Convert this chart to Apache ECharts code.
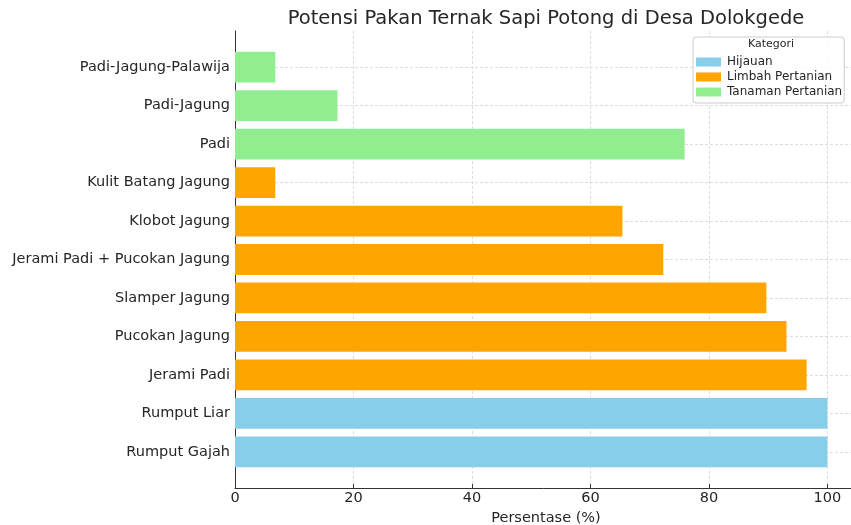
<!DOCTYPE html>
<html>
<head>
<meta charset="utf-8">
<script src="https://cdn.jsdelivr.net/npm/echarts@6/dist/echarts.min.js"></script>
<style>
  html, body { margin: 0; padding: 0; background: #fff; }
  #chart { width: 851px; height: 525px; }
</style>
</head>
<body>
<div id="chart"></div>
<script>
// Feed sources, listed bottom to top
const categories = [
  'Rumput Gajah', 'Rumput Liar', 'Jerami Padi', 'Pucokan Jagung', 'Slamper Jagung',
  'Jerami Padi + Pucokan Jagung', 'Klobot Jagung', 'Kulit Batang Jagung',
  'Padi', 'Padi-Jagung', 'Padi-Jagung-Palawija'
];
// Share of respondents (%) per feed source
const values = [100, 100, 96.5, 93.1, 89.7, 72.3, 65.4, 6.8, 75.9, 17.3, 6.8];
// Category of each feed source
const groups = [
  'Hijauan', 'Hijauan',
  'Limbah Pertanian', 'Limbah Pertanian', 'Limbah Pertanian',
  'Limbah Pertanian', 'Limbah Pertanian', 'Limbah Pertanian',
  'Tanaman Pertanian', 'Tanaman Pertanian', 'Tanaman Pertanian'
];
const groupNames = ['Hijauan', 'Limbah Pertanian', 'Tanaman Pertanian'];
const groupColors = ['#87CEEB', '#FFA500', '#90EE90'];
const xTicks = [0, 20, 40, 60, 80, 100];

const FONT = 'DejaVu Sans';
const TEXT = '#262626';
const GRIDLINE = { color: '#d4d4d4', type: [3, 2], width: 0.8 };

const chart = echarts.init(document.getElementById('chart'), null, { renderer: 'canvas' });

const series = groupNames.map((g, gi) => ({
  name: g,
  type: 'bar',
  xAxisIndex: 1,
  yAxisIndex: 1,
  barWidth: '80%',
  barGap: '-100%',
  itemStyle: { color: groupColors[gi] },
  emphasis: { disabled: true },
  data: values.map((v, i) => (groups[i] === g ? v : '-'))
}));

chart.setOption({
  animation: false,
  backgroundColor: '#fff',
  textStyle: { fontFamily: FONT },
  graphic: [
    {
      type: 'text',
      x: 546, y: 9,
      style: {
        text: 'Potensi Pakan Ternak Sapi Potong di Desa Dolokgede',
        font: '19.5px "DejaVu Sans"', fill: TEXT, textAlign: 'center'
      }
    },
    {
      type: 'text',
      x: 771, y: 39,
      z: 100,
      style: { text: 'Kategori', font: '11px "DejaVu Sans"', fill: TEXT, textAlign: 'center' }
    }
  ],
  legend: {
    data: groupNames,
    orient: 'vertical',
    left: 693,
    top: 37,
    padding: [19, 2, 5, 3],
    itemWidth: 25,
    itemHeight: 9,
    itemGap: 3,
    icon: 'rect',
    backgroundColor: 'rgba(255,255,255,0.85)',
    borderColor: '#cccccc',
    borderWidth: 1,
    borderRadius: 3,
    selectedMode: false,
    textStyle: { fontFamily: FONT, fontSize: 12, color: TEXT, lineHeight: 12, padding: [0, 0, 0, 1] },
    z: 50
  },
  grid: [
    // frame: spines, x axis and vertical gridlines
    { left: 235, width: 622, top: 31, bottom: 37, outerBoundsMode: 'none', containLabel: false },
    // bars on categorical bands
    { left: 235, width: 622, top: 48, bottom: 54, outerBoundsMode: 'none', containLabel: false }
  ],
  xAxis: [
    {
      gridIndex: 0,
      type: 'value',
      min: 0, max: 105, interval: 20,
      name: 'Persentase (%)',
      nameLocation: 'middle',
      nameGap: 17,
      nameTextStyle: { fontFamily: FONT, fontSize: 14.5, color: TEXT },
      axisLine: { show: true, lineStyle: { color: '#333', width: 1 } },
      axisTick: { show: true, inside: true, length: 4, lineStyle: { color: '#333' } },
      axisLabel: {
        fontFamily: FONT, fontSize: 14.5, color: TEXT, margin: 3,
        showMaxLabel: false,
        formatter: v => (xTicks.indexOf(v) >= 0 ? String(v) : '')
      },
      splitLine: { show: true, lineStyle: GRIDLINE }
    },
    {
      gridIndex: 1,
      type: 'value',
      min: 0, max: 105,
      show: false
    }
  ],
  yAxis: [
    {
      gridIndex: 0,
      type: 'value',
      min: 0, max: 1,
      axisLine: { show: true, lineStyle: { color: '#333', width: 1 } },
      axisTick: { show: false },
      axisLabel: { show: false },
      splitLine: { show: false }
    },
    {
      gridIndex: 1,
      type: 'category',
      data: categories,
      axisLine: { show: false },
      axisTick: { show: true, inside: true, length: 4, alignWithLabel: true, lineStyle: { color: '#333' } },
      axisLabel: { fontFamily: FONT, fontSize: 14.5, color: TEXT, margin: 5 },
      splitLine: { show: true, alignWithLabel: true, lineStyle: GRIDLINE }
    }
  ],
  series: series
});
</script>
</body>
</html>
